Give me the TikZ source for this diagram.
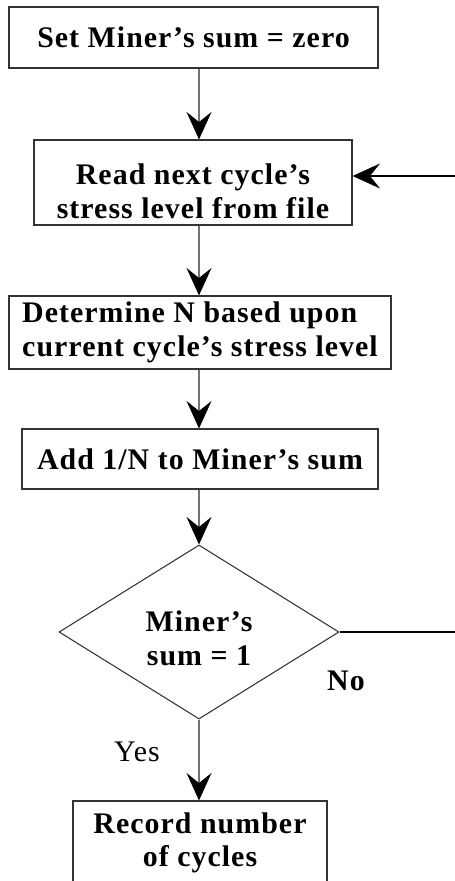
\documentclass[tikz,border=0pt]{standalone}
\usepackage{fontspec}
\setmainfont{Liberation Serif}
\newfontfamily\widefont{Liberation Serif}[LetterSpace=3.5, Ligatures=TeX]
\usetikzlibrary{arrows.meta,shapes.geometric}

\begin{document}
\begin{tikzpicture}[
    box/.style={draw=black!80, line width=0.6pt, inner sep=0pt, align=center,
        font=\widefont\bfseries\fontsize{17}{19}\selectfont},
    decision/.style={box, diamond, minimum width=5.6cm, minimum height=3.36cm},
    flow/.style={draw=black!55, line width=0.7pt,
        -{Stealth[length=0.55cm, width=0.5cm, inset=0.2cm, color=black]}},
    answer/.style={font=\widefont\fontsize{17}{19}\selectfont},
]
\useasboundingbox (0,0) rectangle (9.1,-17.62);

\node[box, minimum width=7.38cm, minimum height=1.22cm] (zero) at (3.87, -0.75) {Set Miner's sum = zero};
\node[box, minimum width=6.36cm, minimum height=1.7cm] (read) at (3.86, -3.65) {\rule{0pt}{22pt}Read next cycle's\\stress level from file};
\node[box, minimum width=7.64cm, minimum height=1.46cm, align=left] (life) at (4.0, -6.65) {Determine N based upon\\current cycle's stress level};
\node[box, minimum width=7.12cm, minimum height=1.2cm] (add) at (4.0, -9.18) {Add 1/N to Miner's sum};
\node[decision] (check) at (3.98, -12.64) {\rule{0pt}{19pt}Miner's\\sum = 1};
\node[box, minimum width=5.08cm, minimum height=1.68cm] (record) at (4.0, -16.86) {Record number\\of cycles};

\node[answer, font=\widefont\bfseries\fontsize{17}{19}\selectfont] (no) at (6.92, -13.62) {No};
\node[answer] (yes) at (2.74, -15.04) {Yes};

\coordinate (back) at (9.3, -3.52);

\draw[flow]
(zero.south -| check.north) -- (read.north -| check.north);
\draw[flow]
(read.south -| check.north) -- (life.north -| check.north);
\draw[flow]
(life.south -| check.north) -- (add.north -| check.north);
\draw[flow]
(add.south -| check.north) -- (check.north);
\draw[flow]
(check.south) -- (record.north -| check.south);
\draw[flow, draw=black]
(check.east) -| (back) -- (read.east |- back);
\end{tikzpicture}
\end{document}
